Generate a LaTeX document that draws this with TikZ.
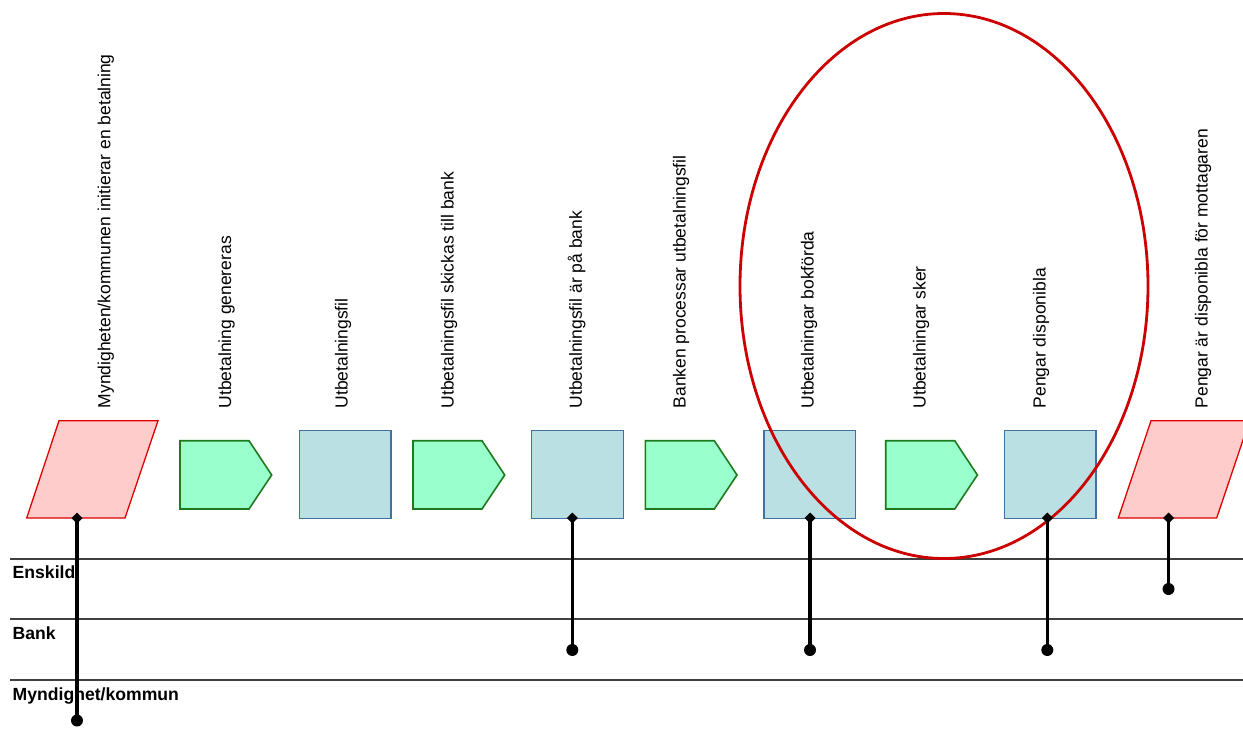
\documentclass[tikz,border=0pt]{standalone}
\usepackage{fontspec}
\setmainfont{Liberation Sans}
\usetikzlibrary{shapes.geometric}
\definecolor{pinkfill}{HTML}{FFCCCC}
\definecolor{pinkline}{HTML}{DD0000}
\definecolor{greenfill}{HTML}{99FFCC}
\definecolor{greenline}{HTML}{1F7A1F}
\definecolor{bluefill}{HTML}{BBE0E3}
\definecolor{blueline}{HTML}{41719C}
\definecolor{ovalred}{HTML}{CC0000}
\definecolor{laneline}{HTML}{404040}
\begin{document}
\begin{tikzpicture}[x=1pt,y=-1pt,
  para/.style={draw=pinkline,fill=pinkfill,line width=1.3pt,line join=miter},
  pent/.style={draw=greenline,fill=greenfill,line width=1.6pt},
  sq/.style={draw=blueline,fill=bluefill,line width=1.3pt,rectangle,minimum width=91.6pt,minimum height=87.6pt,inner sep=0pt},
  lbl/.style={rotate=90,anchor=west,inner sep=0pt,font=\fontsize{17.5}{20}\selectfont},
  lane/.style={draw=laneline,line width=1.6pt},
  lanelbl/.style={anchor=base west,inner sep=0pt,font=\fontsize{17.6}{20}\selectfont\bfseries},
  conn/.style={line width=3.2pt,black},
  dia/.style={fill=black},
  dot/.style={circle,fill=black,minimum size=12pt,inner sep=0pt},
  oval/.style={draw=ovalred,line width=2.8pt}]
\useasboundingbox (0,0) rectangle (1243,736);
\clip (0,0) rectangle (1243,736);

% lanes
\draw[lane] (10,559) coordinate (l1a) -- (1243,559) coordinate (l1b);
\draw[lane] (10,619) coordinate (l2a) -- (1243,619) coordinate (l2b);
\draw[lane] (10,680) coordinate (l3a) -- (1243,680) coordinate (l3b);
\node[lanelbl] (enskild) at (12.5,578) {Enskild};
\node[lanelbl] (bank) at (12.5,639) {Bank};
\node[lanelbl] (myndighet) at (12.5,700) {Myndighet/kommun};

% shapes
\draw[para] (59,420.7) -- (158,420.7) -- (125,518) -- (26.7,518) -- cycle;
\draw[pent] (180,440.7) -- (249,440.7) -- (271.7,475) -- (249,509) -- (180,509) -- cycle;
\node[sq] (sq1) at (345.1,474.5) {};
\draw[pent] (413,440.7) -- (482,440.7) -- (504.7,475) -- (482,509) -- (413,509) -- cycle;
\node[sq] (sq2) at (577.5,474.5) {};
\draw[pent] (645.3,440.7) -- (714.3,440.7) -- (737,475) -- (714.3,509) -- (645.3,509) -- cycle;
\node[sq] (sq3) at (809.8,474.5) {};
\draw[pent] (885.7,440.7) -- (954.7,440.7) -- (977.4,475) -- (954.7,509) -- (885.7,509) -- cycle;
\node[sq] (sq4) at (1050.1,474.5) {};
\draw[para] (1151,420.7) -- (1249.5,420.7) -- (1216.7,518) -- (1118.3,518) -- cycle;

% labels
\node[lbl] (t1) at (105.8,408.5) {Myndigheten/kommunen initierar en betalning};
\node[lbl] (t2) at (226.5,408.5) {Utbetalning genereras};
\node[lbl] (t3) at (343,408.5) {Utbetalningsfil};
\node[lbl] (t4) at (449,408.5) {Utbetalningsfil skickas till bank};
\node[lbl] (t5) at (576.7,408.5) {Utbetalningsfil är på bank};
\node[lbl] (t6) at (681,408.5) {Banken processar utbetalningsfil};
\node[lbl] (t7) at (809,408.5) {Utbetalningar bokförda};
\node[lbl] (t8) at (921,408.5) {Utbetalningar sker};
\node[lbl] (t9) at (1041,408.5) {Pengar disponibla};
\node[lbl] (t10) at (1203,408.5) {Pengar är disponibla för mottagaren};

% oval
\draw[oval] (944,286) ellipse [x radius=204, y radius=272.5];

% connectors
\coordinate (s1) at (77,518);
\coordinate (s2) at (572.3,518);
\coordinate (s3) at (810,518);
\coordinate (s4) at (1047.3,518);
\coordinate (s5) at (1168.5,518);
\node[dot] (e1) at (77,720.5) {};
\node[dot] (e2) at (572.3,650) {};
\node[dot] (e3) at (810,650) {};
\node[dot] (e4) at (1047.3,650) {};
\node[dot] (e5) at (1168.5,589) {};
\foreach \s in {s1,s2,s3,s4,s5}
  \fill[dia] (\s) ++(-5.5,0) -- ++(5.5,-5.5) -- ++(5.5,5.5) -- ++(-5.5,5.5) -- cycle;
\draw[conn] (s1) -- (e1.center);
\draw[conn] (s2) -- (e2.center);
\draw[conn] (s3) -- (e3.center);
\draw[conn] (s4) -- (e4.center);
\draw[conn] (s5) -- (e5.center);
\end{tikzpicture}
\end{document}
